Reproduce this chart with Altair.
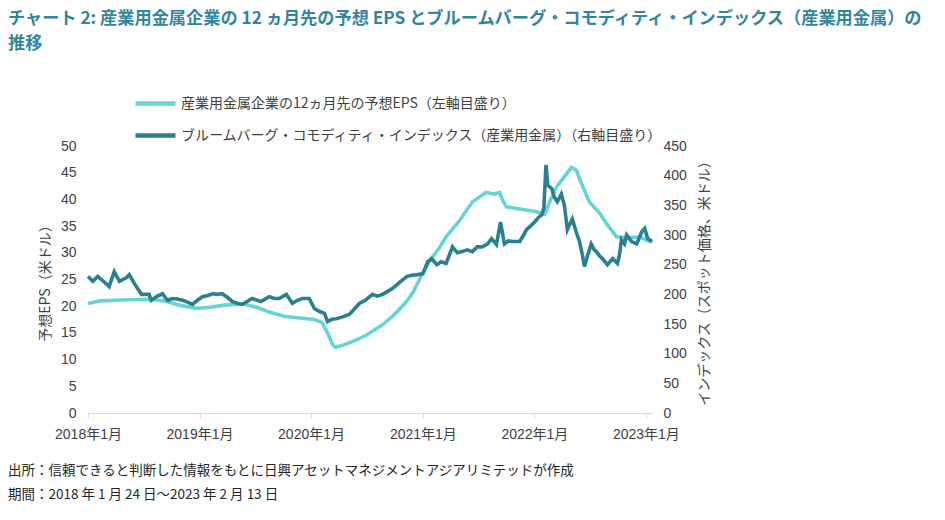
import altair as alt
import pandas as pd

# ---------------- data ----------------
eps_dates = [
    "2018-01-24", "2018-03-04", "2018-06-08", "2018-08-12", "2018-10-01", "2018-11-19",
    "2019-01-14", "2019-02-27", "2019-04-14", "2019-06-18", "2019-07-31", "2019-09-09",
    "2019-10-28", "2019-12-17", "2020-02-04", "2020-02-28", "2020-03-18", "2020-04-02",
    "2020-04-12", "2020-05-12", "2020-06-13", "2020-07-24", "2020-09-14", "2020-10-24",
    "2020-11-26", "2020-12-22", "2021-01-13", "2021-02-15", "2021-03-20", "2021-04-10",
    "2021-05-24", "2021-07-05", "2021-08-19", "2021-09-15", "2021-10-02", "2021-10-15",
    "2021-10-25", "2021-12-07", "2022-02-01", "2022-02-27", "2022-03-15", "2022-04-06",
    "2022-04-26", "2022-05-25", "2022-06-10", "2022-06-27", "2022-07-23", "2022-08-25",
    "2022-09-17", "2022-10-20", "2022-12-02", "2023-01-03", "2023-01-20", "2023-02-13",
]
eps_values = [
    20.5, 21.0, 21.2, 21.3, 21.0, 20.2,
    19.6, 19.8, 20.2, 20.4, 19.8, 18.9,
    18.1, 17.8, 17.5, 17.0, 15.0, 13.0,
    12.3, 12.8, 13.5, 14.6, 16.5, 18.5,
    20.5, 22.5, 25.0, 28.5, 31.0, 33.0,
    36.0, 39.5, 41.3, 41.0, 41.3, 39.5,
    38.6, 38.2, 37.7, 37.2, 39.5, 42.3,
    43.8, 46.0, 45.5, 43.0, 39.5, 37.5,
    35.5, 33.0, 32.8, 33.0, 32.5, 32.0,
]

idx_dates = [
    "2018-01-24", "2018-02-09", "2018-02-25", "2018-03-20", "2018-04-03", "2018-04-20",
    "2018-05-07", "2018-05-29", "2018-06-08", "2018-06-25", "2018-07-18", "2018-08-12",
    "2018-08-19", "2018-09-08", "2018-09-25", "2018-10-11", "2018-10-27", "2018-11-12",
    "2018-11-30", "2018-12-16", "2019-01-01", "2019-01-17", "2019-02-03", "2019-02-20",
    "2019-03-08", "2019-03-23", "2019-04-08", "2019-04-25", "2019-05-11", "2019-05-27",
    "2019-06-12", "2019-06-29", "2019-07-15", "2019-07-31", "2019-08-13", "2019-09-09",
    "2019-09-26", "2019-10-12", "2019-11-04", "2019-11-24", "2019-12-10", "2019-12-27",
    "2020-01-18", "2020-02-04", "2020-02-21", "2020-03-08", "2020-03-18", "2020-04-02",
    "2020-04-15", "2020-05-06", "2020-05-28", "2020-06-13", "2020-07-01", "2020-07-20",
    "2020-08-12", "2020-08-28", "2020-09-14", "2020-10-01", "2020-10-17", "2020-11-09",
    "2020-12-02", "2020-12-18", "2021-01-04", "2021-01-24", "2021-02-09", "2021-02-22",
    "2021-03-11", "2021-03-25", "2021-04-10", "2021-05-01", "2021-05-17", "2021-06-02",
    "2021-06-18", "2021-07-05", "2021-07-21", "2021-08-06", "2021-08-24", "2021-09-06",
    "2021-09-22", "2021-10-05", "2021-10-18", "2021-10-31", "2021-11-13", "2021-12-07",
    "2021-12-20", "2021-12-29", "2022-01-11", "2022-01-25", "2022-02-07", "2022-02-17",
    "2022-02-24", "2022-03-03", "2022-03-09", "2022-03-22", "2022-03-30", "2022-04-09",
    "2022-04-22", "2022-05-02", "2022-05-12", "2022-05-28", "2022-06-10", "2022-06-20",
    "2022-06-30", "2022-07-07", "2022-07-17", "2022-07-29", "2022-08-08", "2022-08-15",
    "2022-08-25", "2022-09-04", "2022-09-20", "2022-10-07", "2022-10-23", "2022-10-30",
    "2022-11-05", "2022-11-15", "2022-11-22", "2022-12-08", "2022-12-25", "2023-01-10",
    "2023-01-20", "2023-01-30", "2023-02-13",
]
idx_values = [
    230, 222, 230, 220, 213, 238,
    222, 228, 233, 218, 200, 200,
    190, 197, 201, 190, 193, 192,
    190, 187, 183, 190, 196, 198,
    201, 200, 201, 195, 188, 185,
    183, 188, 193, 190, 188, 196,
    193, 193, 200, 185, 190, 193,
    193, 176, 171, 168, 154, 158,
    159, 162, 166, 175, 185, 190,
    200, 197, 200, 205, 210, 220,
    230, 232, 233, 235, 255, 260,
    250, 255, 252, 280, 270, 272,
    275, 272, 280, 280, 285, 294,
    284, 322, 285, 290, 289, 289,
    300, 309, 315, 322, 330, 334,
    345, 418, 384, 378, 364, 356,
    369, 351, 309, 327, 305, 290,
    267, 247, 265, 285, 275, 272,
    265, 260, 250, 260, 252, 268,
    292, 285, 300, 289, 285, 305,
    311, 294, 289,
]

series_names = [
    "産業用金属企業の12ヵ月先の予想EPS（左軸目盛り）",
    "ブルームバーグ・コモディティ・インデックス（産業用金属）（右軸目盛り）",
]
series_colors = ["#66D3D7", "#2A7F90"]

year_ticks = [2018, 2019, 2020, 2021, 2022, 2023]
tick_labels = ["2018年1月", "2019年1月", "2020年1月", "2021年1月", "2022年1月", "2023年1月"]
left_ticks = [0, 5, 10, 15, 20, 25, 30, 35, 40, 45, 50]
right_ticks = [0, 50, 100, 150, 200, 250, 300, 350, 400, 450]

title_lines = [
    "チャート 2: 産業用金属企業の 12 ヵ月先の予想 EPS とブルームバーグ・コモディティ・インデックス（産業用金属）の",
    "推移",
]
footer_lines = [
    "出所：信頼できると判断した情報をもとに日興アセットマネジメントアジアリミテッドが作成",
    "期間：2018 年 1 月 24 日～2023 年 2 月 13 日",
]

# ---------------- build ----------------
FONT = "Liberation Sans, Arial, 'Noto Sans CJK JP', sans-serif"
CJK = "'Noto Sans CJK JP', sans-serif"
W, H = 564, 267

eps_df = pd.DataFrame({"date": eps_dates, "value": eps_values, "series": series_names[0]})
idx_df = pd.DataFrame({"date": idx_dates, "value": idx_values, "series": series_names[1]})

label_array = "[" + ",".join("'%s'" % t for t in tick_labels) + "]"
x_enc = alt.X(
    "date:T",
    scale=alt.Scale(
        type="utc",
        domain=[alt.DateTime(year=2018, month=1, date=24, utc=True),
                alt.DateTime(year=2023, month=2, date=13, utc=True)],
    ),
    axis=alt.Axis(
        title=None,
        values=[alt.DateTime(year=y, month=1, date=24, utc=True) for y in year_ticks],
        labelExpr=label_array + "[utcyear(datum.value) - 2018]",
        labelFlush=False,
        labelOverlap=False,
        grid=False,
        domainColor="#D9D9D9",
        tickColor="#D9D9D9",
        tickSize=5,
        labelPadding=9,
        labelFontSize=14,
        labelColor="#404040",
        labelFont=FONT,
    ),
)

color_enc = alt.Color(
    "series:N",
    scale=alt.Scale(domain=series_names, range=series_colors),
    legend=alt.Legend(
        title=None,
        orient="none",
        legendX=45,
        legendY=-65,
        direction="vertical",
        symbolType="stroke",
        symbolStrokeWidth=4.5,
        symbolSize=1600,
        labelFontSize=14,
        labelFont=CJK,
        labelColor="#404040",
        labelLimit=700,
        labelOffset=3,
        rowPadding=-11,
    ),
)

eps_line = alt.Chart(eps_df).mark_line(strokeWidth=3.6).encode(
    x=x_enc,
    y=alt.Y(
        "value:Q",
        scale=alt.Scale(domain=[0, 50]),
        axis=alt.Axis(
            values=left_ticks,
            title="予想EPS（米ドル）",
            titleFont=CJK,
            titleFontSize=14,
            titleFontWeight="normal",
            titleColor="#404040",
            titlePadding=8,
            grid=False,
            domain=False,
            ticks=False,
            labelPadding=12,
            labelFontSize=14,
            labelColor="#404040",
            labelFont=FONT,
        ),
    ),
    color=color_enc,
)

idx_line = alt.Chart(idx_df).mark_line(strokeWidth=3.6).encode(
    x=x_enc,
    y=alt.Y(
        "value:Q",
        scale=alt.Scale(domain=[0, 450]),
        axis=alt.Axis(
            orient="right",
            values=right_ticks,
            title="インデックス（スポット価格、米ドル）",
            titleAngle=270,
            titleBaseline="top",
            titleFont=CJK,
            titleFontSize=14,
            titleFontWeight="normal",
            titleColor="#404040",
            titlePadding=11,
            grid=False,
            domain=False,
            ticks=False,
            labelPadding=11,
            labelFontSize=14,
            labelColor="#404040",
            labelFont=FONT,
        ),
    ),
    color=color_enc,
)

title_1 = alt.Chart(pd.DataFrame({"text": [title_lines[0]]})).mark_text(
    align="left", baseline="middle", fontSize=17.2, fontWeight="bold",
    font=CJK, color="#31859C"
).encode(text="text:N", x=alt.value(-80), y=alt.value(-127))
title_2 = alt.Chart(pd.DataFrame({"text": [title_lines[1]]})).mark_text(
    align="left", baseline="middle", fontSize=17.2, fontWeight="bold",
    font=CJK, color="#31859C"
).encode(text="text:N", x=alt.value(-80), y=alt.value(-102))

foot_1 = alt.Chart(pd.DataFrame({"text": [footer_lines[0]]})).mark_text(
    align="left", baseline="middle", fontSize=13.5, font=CJK, color="#262626"
).encode(text="text:N", x=alt.value(-80), y=alt.value(325))
foot_2 = alt.Chart(pd.DataFrame({"text": [footer_lines[1]]})).mark_text(
    align="left", baseline="middle", fontSize=13.5, font=CJK, color="#262626"
).encode(text="text:N", x=alt.value(-80), y=alt.value(349))

lines = alt.layer(eps_line, idx_line).resolve_scale(y="independent")

chart = alt.layer(lines, title_1, title_2, foot_1, foot_2).properties(
    width=W, height=H,
    padding={"left": 0, "top": 2, "right": 0, "bottom": 0},
    background="white",
).configure_view(stroke=None)

chart.save("out.html", embed_options={"renderer": "svg", "actions": False})
